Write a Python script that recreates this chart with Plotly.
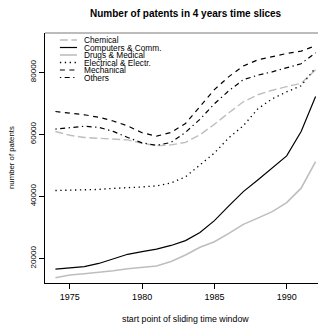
import plotly.graph_objects as go

years = list(range(1974, 1993))

chemical = [60900, 59700, 59000, 58700, 58550, 58200, 57100, 56350, 56600, 57400,
            59850, 63250, 66950, 70500, 72750, 74200, 75350, 76450, 80800]
computers = [16600, 16900, 17350, 18400, 19850, 21350, 22200, 23000, 24200, 25750,
             28400, 32200, 36950, 41550, 45300, 49100, 53050, 60900, 72200]
drugs = [13800, 14700, 15100, 15550, 16050, 16700, 17050, 17600, 19000, 21100,
         23600, 25400, 28100, 31000, 33000, 35100, 38000, 42650, 51200]
electrical = [41900, 41950, 42100, 42250, 42600, 42750, 43050, 43400, 44350, 46300,
              50150, 54000, 58900, 62750, 68200, 71450, 73700, 75650, 81450]
mechanical = [67350, 66900, 66300, 65500, 64300, 62700, 60500, 59400, 60600, 63500,
              68900, 74400, 78600, 82000, 84000, 85100, 86050, 86800, 88550]
others = [61700, 62250, 62600, 62250, 60950, 59000, 57250, 56450, 57400, 60650,
          64850, 69850, 74050, 77600, 79050, 80150, 81450, 82750, 86300]

names = ["Chemical", "Computers & Comm.", "Drugs & Medical",
         "Electrical & Electr.", "Mechanical", "Others"]
series = [chemical, computers, drugs, electrical, mechanical, others]

GRAY = "#bebebe"
styles = [
    dict(color=GRAY, width=1.4, dash="8px,3.5px"),
    dict(color="black", width=1.2, dash="solid"),
    dict(color=GRAY, width=1.6, dash="solid"),
    dict(color="black", width=1.3, dash="1.3px,3.6px"),
    dict(color="black", width=1.2, dash="5px,4.5px"),
    dict(color="black", width=1.2, dash="1.3px,3.5px,5px,3.5px"),
]

xticks = [1975, 1980, 1985, 1990]
yticks = [20000, 40000, 60000, 80000]

FONT = "Liberation Sans, Arial, Helvetica, sans-serif"

fig = go.Figure()
for name, vals, st in zip(names, series, styles):
    fig.add_trace(go.Scatter(x=years, y=vals, mode="lines", name=name,
                             line=dict(color=st["color"], width=st["width"], dash=st["dash"]),
                             showlegend=False))

# manual legend (compact, like R's legend)
shapes = []
annotations = []
row_y = [0.972, 0.942, 0.912, 0.882, 0.852, 0.822]
for name, st, yy in zip(names, styles, row_y):
    shapes.append(dict(type="line", xref="paper", yref="paper",
                       x0=0.053, x1=0.114, y0=yy, y1=yy,
                       line=dict(color=st["color"], width=st["width"], dash=st["dash"])))
    annotations.append(dict(text=name, xref="paper", yref="paper", x=0.132, y=yy,
                            xanchor="left", yanchor="middle", showarrow=False,
                            font=dict(family=FONT, size=8.3, color="black")))

# top border of the box
shapes.append(dict(type="line", xref="paper", yref="paper", x0=0, x1=1, y0=1, y1=1,
                   line=dict(color="#7a7a7a", width=1.2)))

annotations.append(dict(text="<b>Number of patents in 4 years time slices</b>",
                        xref="paper", yref="paper", x=0.5, y=1, yshift=20,
                        xanchor="center", yanchor="middle", showarrow=False,
                        font=dict(family=FONT, size=10, color="black")))
annotations.append(dict(text="start point of sliding time window",
                        xref="paper", yref="paper", x=0.5, y=0, yshift=-36,
                        xanchor="center", yanchor="middle", showarrow=False,
                        font=dict(family=FONT, size=8.8, color="black")))
annotations.append(dict(text="number of patents", textangle=-90,
                        xref="paper", yref="paper", x=0, y=0.5, xshift=-34,
                        xanchor="center", yanchor="middle", showarrow=False,
                        font=dict(family=FONT, size=7.8, color="black")))

# the page body adds an 8px margin, so the figure is 8px smaller than the window
fig.update_layout(
    width=318, height=316,
    margin=dict(l=37, r=0, t=25, b=41),
    paper_bgcolor="white", plot_bgcolor="white",
    font=dict(family=FONT, color="black"),
    shapes=shapes, annotations=annotations,
    showlegend=False,
)
fig.update_xaxes(range=[1973.28, 1992.72], tickvals=xticks, ticktext=[str(v) for v in xticks],
                 ticks="outside", ticklen=5, tickcolor="black", tickwidth=1,
                 showline=True, linecolor="black", linewidth=1,
                 showgrid=False, zeroline=False, tickfont=dict(size=9, family=FONT))
fig.update_yaxes(range=[12100, 92650], tickvals=yticks, ticktext=[str(v) for v in yticks],
                 ticks="outside", ticklen=5, tickcolor="black", tickwidth=1,
                 showline=True, linecolor="black", linewidth=1, tickangle=-90,
                 showgrid=False, zeroline=False, tickfont=dict(size=8, family=FONT))

fig.write_html("out.html")
